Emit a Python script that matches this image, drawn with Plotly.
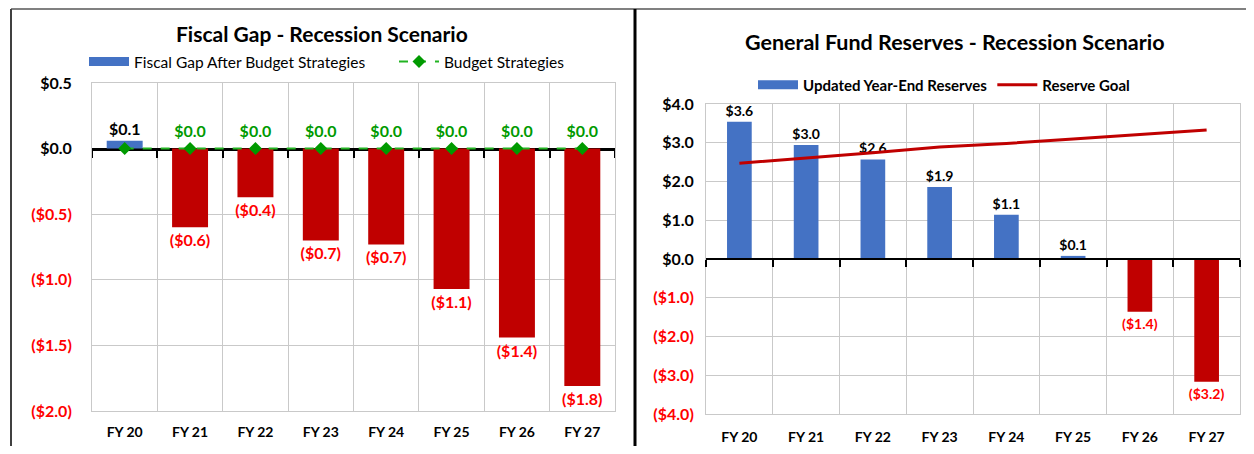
import plotly.graph_objects as go

# data
years = ["FY 20", "FY 21", "FY 22", "FY 23", "FY 24", "FY 25", "FY 26", "FY 27"]

gap_after = [0.06, -0.60, -0.37, -0.70, -0.73, -1.07, -1.44, -1.81]
gap_labels = ["$0.1", "($0.6)", "($0.4)", "($0.7)", "($0.7)", "($1.1)", "($1.4)", "($1.8)"]
strategies = [0.0, 0.0, 0.0, 0.0, 0.0, 0.0, 0.0, 0.0]
strategy_labels = ["", "$0.0", "$0.0", "$0.0", "$0.0", "$0.0", "$0.0", "$0.0"]

reserves = [3.54, 2.94, 2.57, 1.86, 1.14, 0.08, -1.36, -3.17]
reserve_labels = ["$3.6", "$3.0", "$2.6", "$1.9", "$1.1", "$0.1", "($1.4)", "($3.2)"]
reserve_goal = [2.47, 2.60, 2.74, 2.89, 2.98, 3.10, 3.21, 3.33]

left_ticks = [0.5, 0.0, -0.5, -1.0, -1.5, -2.0]
left_ticktext = ["$0.5", "$0.0", "($0.5)", "($1.0)", "($1.5)", "($2.0)"]
right_ticks = [4, 3, 2, 1, 0, -1, -2, -3, -4]
right_ticktext = ["$4.0", "$3.0", "$2.0", "$1.0", "$0.0", "($1.0)", "($2.0)", "($3.0)", "($4.0)"]

BLUE = "#4472C4"
DARK_RED = "#C00000"
RED_TXT = "#FF0000"
GREEN = "#009A00"
GRID = "#C9C9C9"
FONT = "Lato"

# the page body keeps its 8px default margin, so the figure is a bit smaller
# than the window and all positions below are window pixels shifted by 8
OFF = 8
W, H = 1254 - 2 * OFF, 454 - 2 * OFF


def px(x):
    return (x - OFF) / W


def py(y):
    return 1 - (y - OFF) / H


def colored_ticks(vals, texts):
    out = []
    for v, t in zip(vals, texts):
        out.append(f'<span style="color:{RED_TXT}">{t}</span>' if v < 0 else t)
    return out


fig = go.Figure()

# left chart
fig.add_trace(go.Bar(
    x=years, y=gap_after, name="Fiscal Gap After Budget Strategies", showlegend=False,
    marker=dict(color=[BLUE if v >= 0 else DARK_RED for v in gap_after], line=dict(width=0)),
    width=0.55, text=gap_labels, textposition="outside", cliponaxis=False,
    constraintext="none",
    textfont=dict(family=FONT, size=16, weight="bold",
                  color=["black" if v >= 0 else RED_TXT for v in gap_after]),
    xaxis="x", yaxis="y",
))
# wide legend swatch like the original
fig.add_trace(go.Scatter(
    x=years, y=[None] * len(years), name="Fiscal Gap After Budget Strategies", mode="lines",
    line=dict(color=BLUE, width=9), hoverinfo="skip",
    xaxis="x", yaxis="y", legend="legend",
))

# invisible points on the zero line, only there so the zero-line axes get drawn
fig.add_trace(go.Scatter(x=years, y=strategies, mode="markers", marker=dict(size=1, opacity=0),
                         showlegend=False, hoverinfo="skip", xaxis="x3", yaxis="y"))

fig.add_trace(go.Scatter(
    x=years, y=strategies, name="Budget Strategies", mode="lines+markers+text",
    line=dict(color="#22B422", width=2, dash="dash"),
    marker=dict(symbol="diamond", size=10, color=GREEN),
    text=strategy_labels, textposition="top center", cliponaxis=False,
    textfont=dict(family=FONT, size=16, weight="bold", color=GREEN),
    xaxis="x", yaxis="y", legend="legend",
))

# right chart
fig.add_trace(go.Bar(
    x=years, y=reserves, name="Updated Year-End Reserves", showlegend=False,
    marker=dict(color=[BLUE if v >= 0 else DARK_RED for v in reserves], line=dict(width=0)),
    width=0.37, text=reserve_labels, textposition="outside", cliponaxis=False,
    constraintext="none",
    textfont=dict(family=FONT, size=14, weight="bold",
                  color=["black" if v >= 0 else RED_TXT for v in reserves]),
    xaxis="x2", yaxis="y2",
))
fig.add_trace(go.Scatter(
    x=years, y=[None] * len(years), name="Updated Year-End Reserves", mode="lines",
    line=dict(color=BLUE, width=9), hoverinfo="skip",
    xaxis="x2", yaxis="y2", legend="legend2",
))
fig.add_trace(go.Scatter(x=years, y=[0] * len(years), mode="markers",
                         marker=dict(size=1, opacity=0),
                         showlegend=False, hoverinfo="skip", xaxis="x4", yaxis="y2"))
fig.add_trace(go.Scatter(
    x=years, y=reserve_goal, name="Reserve Goal", mode="lines",
    line=dict(color=DARK_RED, width=3),
    xaxis="x2", yaxis="y2", legend="legend2",
))

axis_common = dict(
    showgrid=True, gridcolor=GRID, gridwidth=1, showline=True, linecolor=GRID,
    mirror=True, ticks="", fixedrange=True, automargin=False,
)
# black category axis sitting on y = 0 with tick marks between the years
zero_axis = dict(
    type="category", tickson="boundaries", ticks="outside", ticklen=7, tickwidth=2,
    tickcolor="black", showticklabels=False, showgrid=False,
    showline=True, linecolor="black",
    zeroline=False, anchor="free", fixedrange=True, automargin=False,
)

fig.update_layout(
    width=W, height=H,
    margin=dict(l=0, r=0, t=0, b=0, autoexpand=False),
    paper_bgcolor="white", plot_bgcolor="white",
    font=dict(family=FONT, color="black"),
    barmode="overlay",
    xaxis=dict(domain=[px(92), px(615)], anchor="y", type="category", tickson="boundaries",
               tickfont=dict(family=FONT, size=14, weight="bold", color="black"),
               ticklabelstandoff=8, **axis_common),
    yaxis=dict(domain=[py(411), py(83)], anchor="x", range=[-2.0, 0.5],
               tickvals=left_ticks, ticktext=colored_ticks(left_ticks, left_ticktext),
               tickfont=dict(family=FONT, size=16, weight="bold", color="black"),
               ticklabelstandoff=16,
               zeroline=False, **axis_common),
    xaxis2=dict(domain=[px(706), px(1240)], anchor="y2", type="category", tickson="boundaries",
                tickfont=dict(family=FONT, size=14, weight="bold", color="black"),
                ticklabelstandoff=10, **axis_common),
    yaxis2=dict(domain=[py(414), py(104)], anchor="x2", range=[-4, 4],
                tickvals=right_ticks, ticktext=colored_ticks(right_ticks, right_ticktext),
                tickfont=dict(family=FONT, size=16, weight="bold", color="black"),
                ticklabelstandoff=8,
                zeroline=False, **axis_common),
    # left: under the traces so the green dashes stay on top of the black line
    xaxis3=dict(overlaying="x", domain=[px(92), px(615)], range=[-0.5, 7.5],
                position=py(148.6), linewidth=3, layer="below traces", **zero_axis),
    xaxis4=dict(overlaying="x2", domain=[px(706), px(1240)], range=[-0.5, 7.5],
                position=py(259), linewidth=2, layer="above traces", **zero_axis),
    legend=dict(orientation="h", x=px(84), y=py(62), xanchor="left", yanchor="middle",
                font=dict(family=FONT, size=15.5), itemwidth=40, entrywidth=255,
                bgcolor="rgba(0,0,0,0)"),
    legend2=dict(orientation="h", x=px(753), y=py(85), xanchor="left", yanchor="middle",
                 font=dict(family=FONT, size=15, weight="bold"), itemwidth=40,
                 bgcolor="rgba(0,0,0,0)"),
    annotations=[
        dict(text="<b>Fiscal Gap - Recession Scenario</b>", x=px(322), y=py(34),
             xref="paper", yref="paper", xanchor="center", yanchor="middle",
             showarrow=False, font=dict(family=FONT, size=21)),
        dict(text="<b>General Fund Reserves - Recession Scenario</b>", x=px(955), y=py(42),
             xref="paper", yref="paper", xanchor="center", yanchor="middle",
             showarrow=False, font=dict(family=FONT, size=21.5)),
    ],
    shapes=[
        dict(type="line", xref="paper", yref="paper", x0=px(11), x1=1, y0=py(9), y1=py(9),
             line=dict(color="#808080", width=2)),
        dict(type="line", xref="paper", yref="paper", x0=px(11), x1=px(11), y0=py(9), y1=0,
             line=dict(color="#404040", width=2)),
        dict(type="line", xref="paper", yref="paper", x0=px(635), x1=px(635), y0=py(9), y1=0,
             line=dict(color="black", width=3)),
    ],
)

fig.write_html("out.html")
